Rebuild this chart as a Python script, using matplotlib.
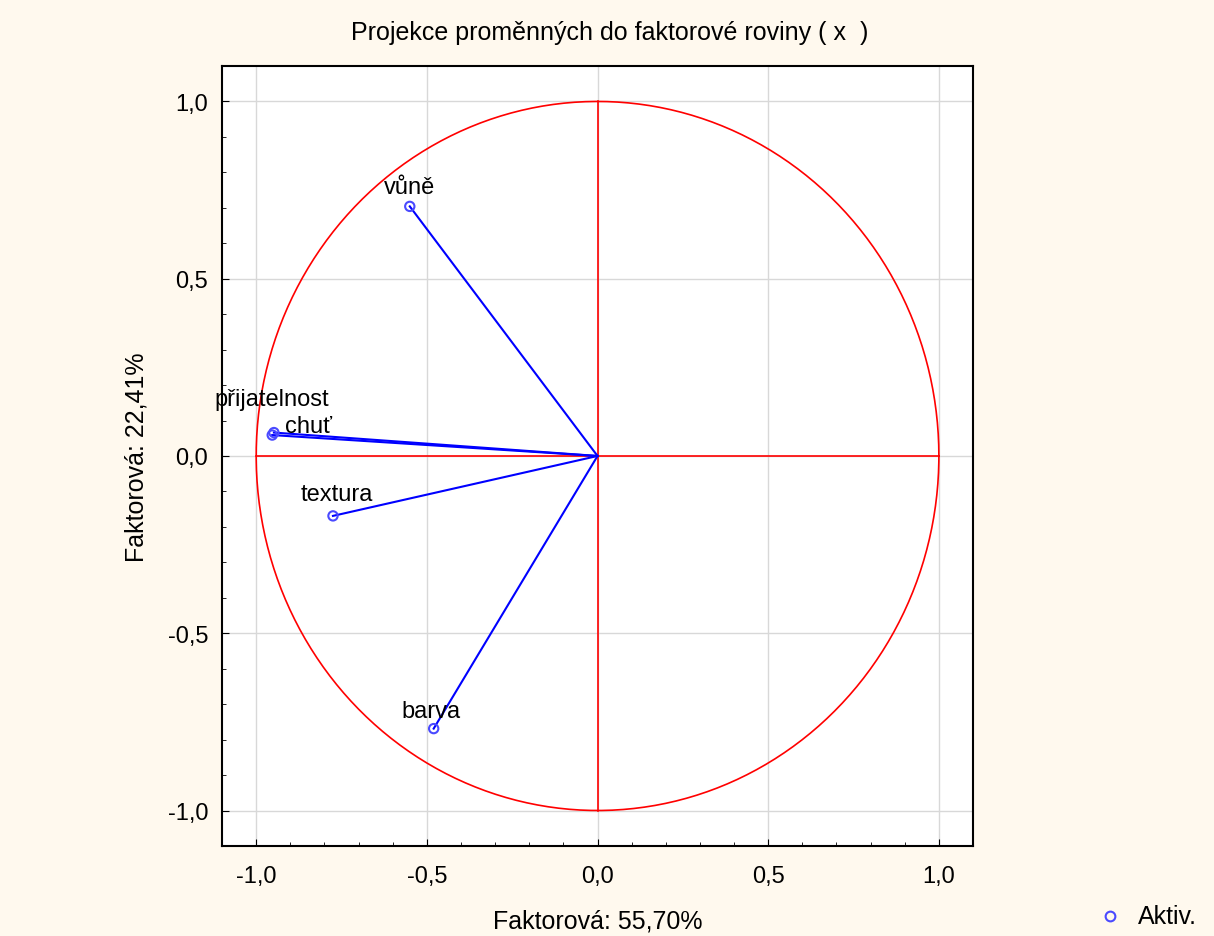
import numpy as np
import matplotlib
matplotlib.use("Agg")
import matplotlib.pyplot as plt
from matplotlib.ticker import MultipleLocator, FuncFormatter

plt.rcParams['font.family'] = ['Liberation Sans', 'DejaVu Sans']

# variable loadings on factor 1 and factor 2
names = ['vůně', 'přijatelnost', 'chuť', 'textura', 'barva']
f1 = [-0.550, -0.953, -0.948, -0.775, -0.480]
f2 = [0.704, 0.059, 0.066, -0.169, -0.769]

# label offsets in points (dx, dy) from the marker
offsets = [(0, 14), (0, 26), (25, 5), (3, 16), (-2, 13)]

fig = plt.figure(figsize=(12.14, 9.37), dpi=100)
fig.patch.set_facecolor('#fff9ee')
ax = fig.add_axes([0.1829, 0.0961, 0.6186, 0.8324])
ax.set_facecolor('white')

ax.set_xlim(-1.1, 1.1)
ax.set_ylim(-1.1, 1.1)

ax.xaxis.set_major_locator(MultipleLocator(0.5))
ax.yaxis.set_major_locator(MultipleLocator(0.5))
ax.xaxis.set_minor_locator(MultipleLocator(0.1))
ax.yaxis.set_minor_locator(MultipleLocator(0.1))
fmt = FuncFormatter(lambda v, p: ('%.1f' % v).replace('.', ','))
ax.xaxis.set_major_formatter(fmt)
ax.yaxis.set_major_formatter(fmt)
ax.tick_params(which='both', direction='in', labelsize=17, colors='black')
ax.tick_params(which='major', length=5)
ax.tick_params(which='minor', length=3)
ax.tick_params(axis='y', which='major', pad=10)
ax.tick_params(axis='x', which='major', pad=14)
ax.grid(True, which='major', color='#d8d8d8', linewidth=1)
ax.set_axisbelow(True)

# unit circle and axes
t = np.linspace(0, 2 * np.pi, 400)
ax.plot(np.cos(t), np.sin(t), color='red', linewidth=1.2, zorder=2)
ax.plot([-1, 1], [0, 0], color='red', linewidth=1.2, zorder=2)
ax.plot([0, 0], [-1, 1], color='red', linewidth=1.2, zorder=2)

for name, x, y, (dx, dy) in zip(names, f1, f2, offsets):
    ax.plot([0, x], [0, y], color='blue', linewidth=1.5, zorder=3)
    ax.annotate(name, (x, y), xytext=(dx, dy), textcoords='offset points',
                ha='center', va='center', fontsize=17, zorder=5)
ax.scatter(f1, f2, s=45, facecolors='none', edgecolors='#4a4aff',
           linewidths=1.5, zorder=4)

for s in ax.spines.values():
    s.set_color('black')
    s.set_linewidth(1.5)

fig.text(0.502, 0.965, 'Projekce proměnných do faktorové roviny ( x  )',
         ha='center', va='center', fontsize=18)
ax.set_xlabel('Faktorová: 55,70%', fontsize=18, labelpad=15)
ax.set_ylabel('Faktorová: 22,41%', fontsize=18, labelpad=14)

# legend
fig.lines.append(plt.Line2D([1110 / 1214], [1 - 917 / 937], transform=fig.transFigure,
                            marker='o', markersize=7, markerfacecolor='none',
                            markeredgecolor='#4a4aff', markeredgewidth=1.5,
                            linestyle='none'))
fig.text(1138 / 1214, 1 - 917 / 937, 'Aktiv.', ha='left', va='center', fontsize=18)

fig.savefig('out.png', dpi=100, facecolor=fig.get_facecolor())
